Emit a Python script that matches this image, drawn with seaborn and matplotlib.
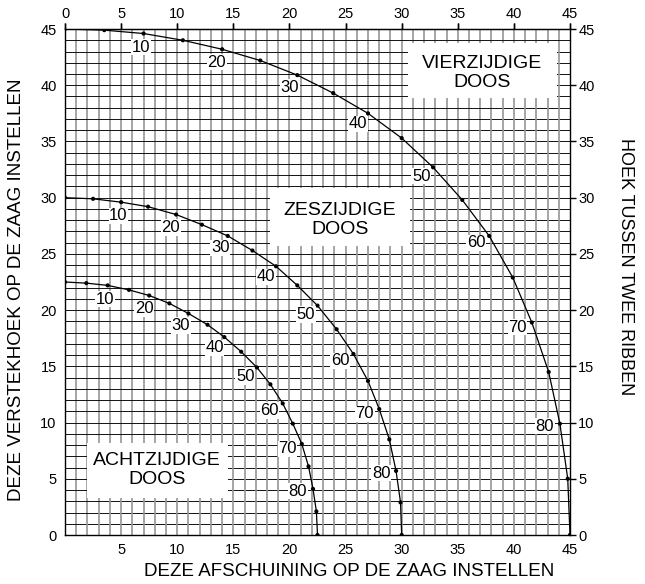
import matplotlib.pyplot as plt
import matplotlib.patches as patches
import numpy as np
import pandas as pd
import seaborn as sns

# helling van de zijkant (graden), een punt om de 5 graden
SLOPES = [0, 5, 10, 15, 20, 25, 30, 35, 40, 45, 50, 55, 60, 65, 70, 75, 80, 85, 90]
LABELED = [10, 20, 30, 40, 50, 60, 70, 80]

# vierzijdige doos: afschuining (x) en verstekhoek (y)
VIER_X = [0, 3.5, 7.0, 10.5, 14.0, 17.4, 20.7, 23.9, 27.0, 30.0,
          32.8, 35.4, 37.8, 39.9, 41.6, 43.1, 44.1, 44.8, 45.0]
VIER_Y = [45.0, 44.9, 44.6, 44.0, 43.2, 42.2, 40.9, 39.3, 37.5, 35.3,
          32.7, 29.8, 26.6, 22.9, 18.9, 14.5, 9.9, 5.0, 0]

# zeszijdige doos
ZES_X = [0, 2.5, 5.0, 7.4, 9.9, 12.2, 14.5, 16.7, 18.8, 20.7,
         22.5, 24.2, 25.7, 27.0, 28.0, 28.9, 29.5, 29.9, 30.0]
ZES_Y = [30.0, 29.9, 29.6, 29.2, 28.5, 27.6, 26.6, 25.3, 23.9, 22.2,
         20.4, 18.3, 16.1, 13.7, 11.2, 8.5, 5.7, 2.9, 0]

# achtzijdige doos
ACHT_X = [0, 1.9, 3.8, 5.7, 7.5, 9.3, 11.0, 12.7, 14.2, 15.7,
          17.1, 18.3, 19.4, 20.3, 21.1, 21.7, 22.1, 22.4, 22.5]
ACHT_Y = [22.5, 22.4, 22.2, 21.8, 21.3, 20.6, 19.7, 18.7, 17.6, 16.3,
          14.9, 13.4, 11.7, 9.9, 8.1, 6.1, 4.1, 2.1, 0]

TICKS = [0, 5, 10, 15, 20, 25, 30, 35, 40, 45]


def main():
    sns.set_style("white")
    plt.rcParams['font.family'] = ['Liberation Sans', 'DejaVu Sans']
    plt.rcParams['text.color'] = 'black'
    plt.rcParams['xtick.color'] = 'black'
    plt.rcParams['ytick.color'] = 'black'

    curves = {
        "VIERZIJDIGE\nDOOS": (VIER_X, VIER_Y),
        "ZESZIJDIGE\nDOOS": (ZES_X, ZES_Y),
        "ACHTZIJDIGE\nDOOS": (ACHT_X, ACHT_Y),
    }
    frames = []
    for name, (xs, ys) in curves.items():
        frames.append(pd.DataFrame({"doos": name, "helling": SLOPES,
                                    "x": xs, "y": ys}))
    df = pd.concat(frames, ignore_index=True)

    fig = plt.figure(figsize=(6.45, 5.84), dpi=100)
    ax = fig.add_axes([0.1008, 0.0839, 0.7829, 0.8664])

    # raster: verticale lijnen grijs, horizontale zwart
    for v in range(1, 45):
        ax.axvline(v, color="#969696", lw=1.2, zorder=0)
        ax.axhline(v, color="#111111", lw=0.7, zorder=0)

    # witte vlakken met de namen
    boxes = [
        ("VIERZIJDIGE\nDOOS", (30.6, 38.9), 13.2, 4.9, (37.2, 41.1)),
        ("ZESZIJDIGE\nDOOS", (18.3, 25.7), 12.4, 5.15, (24.5, 28.0)),
        ("ACHTZIJDIGE\nDOOS", (1.95, 3.27), 12.55, 4.9, (8.2, 5.77)),
    ]
    for text, xy, w, h, center in boxes:
        ax.add_patch(patches.Rectangle(xy, w, h, facecolor="white",
                                       edgecolor="none", zorder=1))
        ax.text(center[0], center[1], text, ha="center", va="center",
                fontsize=14, linespacing=1.15, zorder=2)

    for name in curves:
        sub = df[df["doos"] == name]
        sns.lineplot(data=sub, x="x", y="y", sort=False, color="black",
                     lw=0.9, ax=ax, zorder=3)
        sns.scatterplot(data=sub, x="x", y="y", color="black", s=9,
                        edgecolor="none", ax=ax, zorder=4)
        for _, row in sub[sub["helling"].isin(LABELED)].iterrows():
            a = np.radians(row["helling"])
            ax.annotate(str(int(row["helling"])), (row["x"], row["y"]),
                        xytext=(-11 * np.sin(a), -10 * np.cos(a)),
                        textcoords="offset points", ha="center",
                        va="center", fontsize=12, zorder=5,
                        bbox=dict(facecolor="white", edgecolor="none",
                                  pad=0.5))

    ax.set_xlim(0, 45)
    ax.set_ylim(0, 45)
    ax.set_xlabel("")
    ax.set_ylabel("")
    ax.set_xticks(TICKS)
    ax.set_xticklabels([""] + [str(t) for t in TICKS[1:]])
    ax.set_yticks(TICKS)
    ax.tick_params(axis="both", which="both", direction="out", length=4,
                   width=1, color="black", labelcolor="black",
                   labelsize=10.5, pad=2, top=True, right=True,
                   labeltop=False, labelright=True)
    for sp in ax.spines.values():
        sp.set_color("black")
        sp.set_linewidth(1)

    top = ax.secondary_xaxis("top")
    top.set_xticks(TICKS)
    top.tick_params(direction="out", length=4, width=1, labelsize=10.5,
                    color="black", labelcolor="black", pad=2)

    fig.text(0.541, 0.006, "DEZE AFSCHUINING OP DE ZAAG INSTELLEN",
             ha="center", va="bottom", fontsize=13.5)
    fig.text(0.026, 0.503, "DEZE VERSTEKHOEK OP DE ZAAG INSTELLEN",
             ha="center", va="center", rotation=90, fontsize=13.5)
    fig.text(0.970, 0.543, "HOEK TUSSEN TWEE RIBBEN",
             ha="center", va="center", rotation=270, fontsize=13)

    fig.savefig("out.png", dpi=100)


if __name__ == '__main__':
    main()
